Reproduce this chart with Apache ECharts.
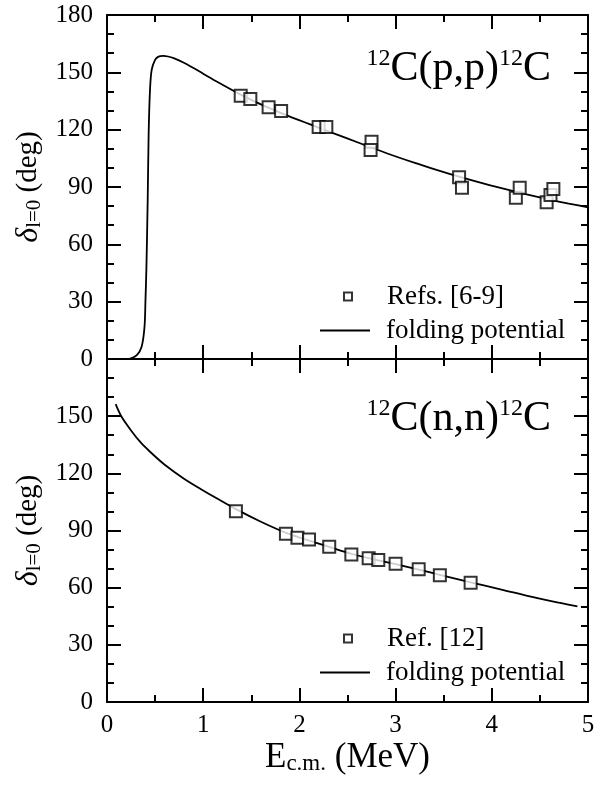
<!DOCTYPE html>
<html>
<head>
<meta charset="utf-8">
<script src="https://cdn.jsdelivr.net/npm/echarts@6/dist/echarts.min.js"></script>
<style>
    html,body{margin:0;padding:0;background:#fff;}
    #main{width:606px;height:785px;}
</style>
</head>
<body>
<div id="main"></div>
<script>
// 12C(p,p)12C 数据点
var ppE = [1.39, 1.49, 1.68, 1.81, 2.20, 2.28, 2.75, 2.74, 3.66, 3.69, 4.25, 4.29, 4.57, 4.61, 4.64];
var ppD = [137.8, 136.0, 131.7, 129.8, 121.4, 121.4, 113.7, 109.4, 95.1, 89.6, 84.4, 89.6, 82.0, 85.8, 89.0];
// folding potential (p,p)
var ppCurveE = [0, 0.1, 0.2, 0.25, 0.31, 0.36, 0.39, 0.40, 0.41, 0.423, 0.433, 0.447, 0.464, 0.50, 0.535, 0.585, 0.7, 0.83, 1.0, 1.14, 1.38, 1.6, 1.83, 2.1, 2.35, 2.63, 2.9, 3.2, 3.4, 3.66, 3.9, 4.1, 4.35, 4.6, 4.8, 5.0];
var ppCurveD = [0, 0, 0, 0.3, 2, 6.4, 16.9, 30.9, 48.3, 83.2, 118, 140.8, 151.2, 156.5, 158.2, 158.6, 157.3, 154.2, 149.3, 145.2, 138.6, 133.2, 128.3, 123.0, 118.2, 112.9, 107.8, 102.6, 99.4, 95.4, 92.0, 89.4, 86.3, 83.4, 81.3, 79.4];

// 12C(n,n)12C 数据点
var nnE = [1.34, 1.86, 1.98, 2.10, 2.31, 2.54, 2.72, 2.82, 3.00, 3.24, 3.46, 3.78];
var nnD = [100.1, 88.3, 86.2, 85.3, 81.5, 77.4, 75.5, 74.5, 72.6, 69.6, 66.5, 62.6];
// folding potential (n,n)
var nnCurveE = [0.09, 0.15, 0.25, 0.35, 0.45, 0.6, 0.8, 1.0, 1.14, 1.34, 1.6, 1.87, 2.11, 2.31, 2.54, 2.82, 3.0, 3.24, 3.46, 3.78, 4.1, 4.43, 4.7, 4.89];
var nnCurveD = [156.3, 149.8, 142.5, 136.2, 131.2, 124.5, 117.2, 111.0, 106.9, 101.2, 94.6, 88.6, 84.6, 81.4, 77.8, 74.3, 72.4, 69.5, 66.7, 62.8, 59.0, 55.0, 52.1, 50.2];

var xTicks = {min: 0, max: 5, interval: 1, minorSplit: 2};
var yTicks = {min: 0, max: 180, interval: 30, minorSplit: 3};

function zip(a, b){
    return a.map(function(v, i){ return [v, b[i]]; });
}

var FONT = '"Liberation Serif", "DejaVu Serif", serif';

// 坐标轴 (四边框 + 内刻度)
function axis(type, grid, pos, showLabel, extra){
    var t = type === 'x' ? xTicks : yTicks;
    var o = {
        type: 'value',
        gridIndex: grid,
        position: pos,
        min: t.min,
        max: t.max,
        interval: t.interval,
        axisLine: {show: true, onZero: false, lineStyle: {color: '#000', width: 2}},
        axisTick: {show: true, inside: true, length: 14, lineStyle: {color: '#000', width: 2}},
        minorTick: {show: true, splitNumber: t.minorSplit, length: 7, lineStyle: {color: '#000', width: 2}},
        splitLine: {show: false},
        axisLabel: {show: showLabel, color: '#000', fontFamily: FONT, fontSize: 25, margin: type === 'x' ? 11 : 14}
    };
    for (var k in extra) o[k] = extra[k];
    return o;
}

var yName = '{d|δ}{s|l=0}{n| (deg)}';
var yNameStyle = {
    fontFamily: FONT, color: '#000',
    rich: {
        d: {fontFamily: FONT, fontStyle: 'italic', fontSize: 32, color: '#000'},
        s: {fontFamily: FONT, fontSize: 21, color: '#000', verticalAlign: 'bottom'},
        n: {fontFamily: FONT, fontSize: 29, color: '#000'}
    }
};

var titleRich = {
    sup: {fontFamily: FONT, fontSize: 24, fontWeight: 'normal', color: '#000', verticalAlign: 'top', lineHeight: 44},
    m: {fontFamily: FONT, fontSize: 42, fontWeight: 'normal', color: '#000', lineHeight: 44}
};

var legendText = {fontFamily: FONT, fontSize: 27, color: '#000', lineHeight: 27};

// 图例: 方块和线分开, 各自尺寸
function symLegend(name, top){
    return {
        orient: 'vertical', left: 343, top: top, padding: 0, itemWidth: 8, itemHeight: 8,
        data: [{name: name, icon: 'rect', itemStyle: {color: '#fff', borderColor: '#000', borderWidth: 2}}],
        textStyle: Object.assign({padding: [0, 0, 0, 30]}, legendText)
    };
}
function lineLegend(name, top){
    return {
        orient: 'vertical', left: 320, top: top, padding: 0, itemWidth: 50, itemHeight: 2,
        data: [{name: name, icon: 'rect', itemStyle: {color: '#000', borderWidth: 0}}],
        formatter: function(n){ return n.replace(/ \(.*\)$/, ''); },
        textStyle: Object.assign({padding: [0, 0, 0, 11]}, legendText)
    };
}

var myChart = echarts.init(document.getElementById('main'));
myChart.setOption({
    backgroundColor: '#fff',
    animation: false,
    title: [
        {text: '{sup|12}{m|C(p,p)}{sup|12}{m|C}', right: 50, top: 42, textStyle: {fontWeight: 'normal', rich: titleRich}},
        {text: '{sup|12}{m|C(n,n)}{sup|12}{m|C}', right: 50, top: 392, textStyle: {fontWeight: 'normal', rich: titleRich}}
    ],
    legend: [
        symLegend('Refs. [6-9]', 283),
        lineLegend('folding potential (p,p)', 317),
        symLegend('Ref. [12]', 625),
        lineLegend('folding potential (n,n)', 659)
    ],
    grid: [
        {left: 107, top: 15, width: 481, height: 344},
        {left: 107, top: 359, width: 481, height: 343}
    ],
    xAxis: [
        axis('x', 0, 'bottom', false),
        axis('x', 0, 'top', false),
        axis('x', 1, 'bottom', true, {
            name: '{n|E}{s|c.m.}{n| (MeV)}',
            nameLocation: 'middle', nameGap: 38,
            nameTextStyle: {
                fontFamily: FONT, color: '#000',
                rich: {
                    n: {fontFamily: FONT, fontSize: 35, color: '#000'},
                    s: {fontFamily: FONT, fontSize: 23, color: '#000', verticalAlign: 'bottom'}
                }
            }
        }),
        axis('x', 1, 'top', false)
    ],
    yAxis: [
        axis('y', 0, 'left', true, {
            name: yName, nameLocation: 'middle', nameRotate: 90, nameGap: 62, nameTextStyle: yNameStyle
        }),
        axis('y', 0, 'right', false),
        axis('y', 1, 'left', true, {
            name: yName, nameLocation: 'middle', nameRotate: 90, nameGap: 62, nameTextStyle: yNameStyle,
            axisLabel: {show: true, color: '#000', fontFamily: FONT, fontSize: 25, margin: 14, showMaxLabel: false}
        }),
        axis('y', 1, 'right', false)
    ],
    series: [
        {
            name: 'Refs. [6-9]', type: 'scatter', xAxisIndex: 0, yAxisIndex: 0,
            symbol: 'emptyRect', symbolSize: 12,
            itemStyle: {color: '#000', borderColor: '#000', borderWidth: 2},
            data: zip(ppE, ppD), z: 3
        },
        {
            name: 'folding potential (p,p)', type: 'line', xAxisIndex: 0, yAxisIndex: 0,
            symbol: 'none', smooth: 0.3,
            lineStyle: {color: '#000', width: 1.8},
            itemStyle: {color: '#000'},
            data: zip(ppCurveE, ppCurveD), z: 2
        },
        {
            name: 'Ref. [12]', type: 'scatter', xAxisIndex: 2, yAxisIndex: 2,
            symbol: 'emptyRect', symbolSize: 12,
            itemStyle: {color: '#000', borderColor: '#000', borderWidth: 2},
            data: zip(nnE, nnD), z: 3
        },
        {
            name: 'folding potential (n,n)', type: 'line', xAxisIndex: 2, yAxisIndex: 2,
            symbol: 'none', smooth: 0.3,
            lineStyle: {color: '#000', width: 1.8},
            itemStyle: {color: '#000'},
            data: zip(nnCurveE, nnCurveD), z: 2
        }
    ]
});
window.onresize = function(){
    myChart.resize();
}
</script>
</body>
</html>
